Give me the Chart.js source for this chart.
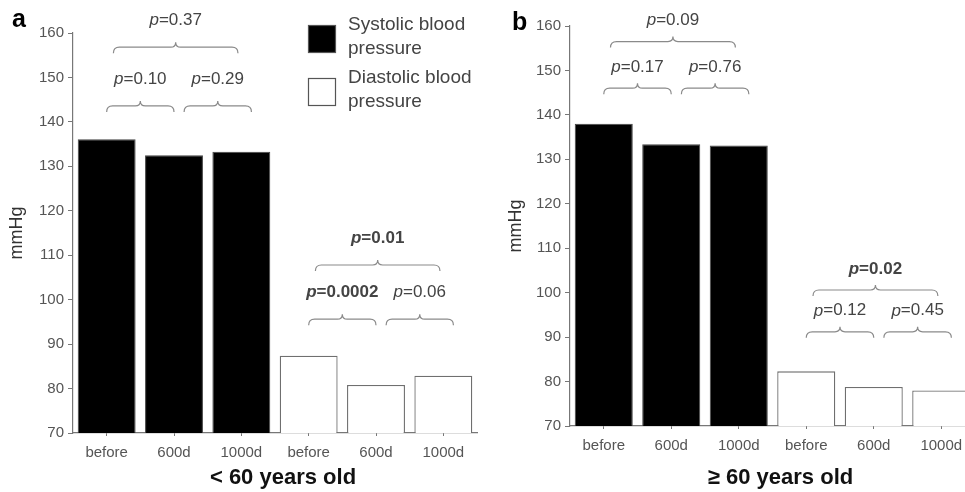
<!DOCTYPE html>
<html>
<head>
<meta charset="utf-8">
<script src="https://cdn.jsdelivr.net/npm/chart.js@4.4.0/dist/chart.umd.min.js"></script>
<style>
  html, body { margin: 0; padding: 0; background: #fff; overflow: hidden; }
  #wrap { position: relative; width: 965px; height: 492px; overflow: hidden; }
  canvas { position: absolute; top: 0; }
  #chart-a { left: 0; }
  #chart-b { left: 490px; }
</style>
</head>
<body>
<div id="wrap">
  <canvas id="chart-a" width="490" height="492"></canvas>
  <canvas id="chart-b" width="490" height="492"></canvas>
</div>
<script>
// Data
const timepoints = ["before", "600d", "1000d"];
const tickLabels = timepoints.concat(timepoints);

const systolicUnder60 = [136.1, 132.5, 133.3];
const diastolicUnder60 = [87.4, 80.8, 82.9];
const systolicOver60 = [138.0, 133.4, 133.1];
const diastolicOver60 = [82.3, 78.8, 78.0];

// which bars each p-value compares (index into tickLabels)
const comparisons = [[0, 1], [1, 2], [0, 2], [3, 4], [4, 5], [3, 5]];
const pUnder60 = ["0.10", "0.29", "0.37", "0.0002", "0.06", "0.01"];
const pOver60 = ["0.17", "0.76", "0.09", "0.12", "0.45", "0.02"];

const seriesNames = [["Systolic blood", "pressure"], ["Diastolic blood", "pressure"]];

const FONT = '"Liberation Sans", Arial, sans-serif';
const empty = [null, null, null];

// Curly brackets with p-values
const bracketPlugin = {
  id: "brackets",
  afterDatasetsDraw(chart, args, opts) {
    const ctx = chart.ctx;
    const xs = chart.scales.x;
    const ys = chart.scales.y;
    ctx.save();
    opts.pValues.forEach((p, i) => {
      const [a, b] = comparisons[i];
      let from, to;
      if (b - a === 2) { from = a + 0.1; to = a + 1.95; }
      else if (a % 3 === 0) { from = a; to = b; }
      else { from = a + 0.15; to = b + 0.15; }
      const x1 = xs.getPixelForValue(from);
      const x2 = xs.getPixelForValue(to);
      const xm = (x1 + x2) / 2;
      const level = opts.levels[a < 3 ? 0 : 1][b - a === 2 ? 1 : 0];
      const y = ys.getPixelForValue(level);

      ctx.strokeStyle = "#8a8a8a";
      ctx.lineWidth = 1.2;
      ctx.beginPath();
      ctx.moveTo(x1, y + 6);
      ctx.quadraticCurveTo(x1, y, x1 + 6, y);
      ctx.lineTo(xm - 5, y);
      ctx.quadraticCurveTo(xm, y, xm, y - 5);
      ctx.quadraticCurveTo(xm, y, xm + 5, y);
      ctx.lineTo(x2 - 6, y);
      ctx.quadraticCurveTo(x2, y, x2, y + 6);
      ctx.stroke();

      // bold when significant
      const weight = parseFloat(p) < 0.05 ? "bold" : "normal";
      const rest = "=" + p;
      ctx.font = `italic ${weight} 17px ${FONT}`;
      const wp = ctx.measureText("p").width;
      ctx.font = `${weight} 17px ${FONT}`;
      const wr = ctx.measureText(rest).width;
      const start = xm - (wp + wr) / 2;
      const ty = y - opts.labelOffset;
      ctx.fillStyle = "#444";
      ctx.textBaseline = "middle";
      ctx.textAlign = "left";
      ctx.font = `italic ${weight} 17px ${FONT}`;
      ctx.fillText("p", start, ty);
      ctx.font = `${weight} 17px ${FONT}`;
      ctx.fillText(rest, start + wp, ty);
    });
    ctx.restore();
  }
};

// Panel letter and x title
const labelsPlugin = {
  id: "panelLabels",
  afterDraw(chart, args, opts) {
    const ctx = chart.ctx;
    const area = chart.chartArea;
    ctx.save();
    ctx.fillStyle = "#000";
    ctx.textBaseline = "alphabetic";
    ctx.textAlign = "left";
    ctx.font = `bold 25px ${FONT}`;
    ctx.fillText(opts.letter, opts.letterX, opts.letterY);
    ctx.textAlign = "center";
    ctx.textBaseline = "middle";
    ctx.font = `bold 22px ${FONT}`;
    ctx.fillStyle = "#111";
    ctx.fillText(opts.title, (area.left + area.right) / 2 + 8, 478);
    ctx.restore();
  }
};

// Legend drawn next to panel a
const legendPlugin = {
  id: "boxLegend",
  afterDraw(chart, args, opts) {
    if (!opts.show) return;
    const ctx = chart.ctx;
    ctx.save();
    chart.data.datasets.forEach((ds, i) => {
      const top = 25 + i * 53;
      ctx.fillStyle = ds.backgroundColor;
      ctx.fillRect(308, top, 27, 27);
      ctx.strokeStyle = "#555";
      ctx.lineWidth = 1.2;
      ctx.strokeRect(308.5, top + 0.5, 27, 27);
      ctx.fillStyle = "#444";
      ctx.font = `19px ${FONT}`;
      ctx.textAlign = "left";
      ctx.textBaseline = "alphabetic";
      seriesNames[i].forEach((line, j) => {
        ctx.fillText(line, 348, top + 5 + j * 24);
      });
    });
    ctx.restore();
  }
};

function makeChart(canvasId, systolic, diastolic, pValues, layout) {
  return new Chart(document.getElementById(canvasId), {
    type: "bar",
    data: {
      labels: tickLabels,
      datasets: [
        {
          label: "Systolic blood pressure",
          data: systolic.concat(empty),
          backgroundColor: "#000",
          borderColor: "#444",
          borderWidth: 1
        },
        {
          label: "Diastolic blood pressure",
          data: empty.concat(diastolic),
          backgroundColor: "#fff",
          borderColor: "#6f6f6f",
          borderWidth: 1.3
        }
      ]
    },
    options: {
      responsive: false,
      animation: false,
      categoryPercentage: 1,
      barPercentage: 0.86,
      layout: { padding: { top: layout.top, right: layout.right, left: 0, bottom: 0 } },
      scales: {
        x: {
          stacked: true,
          grid: { display: true, drawOnChartArea: false, offset: false, tickLength: 3, color: "#777" },
          border: { color: "#777", width: 1.2 },
          ticks: { color: "#555", font: { family: FONT, size: 15 }, padding: 8 },
          afterFit(scale) { scale.height = layout.xHeight; }
        },
        y: {
          min: 70,
          max: 160,
          ticks: { stepSize: 10, color: "#555", font: { family: FONT, size: 15 }, padding: 4 },
          grid: { drawOnChartArea: false, tickLength: 5, color: "#777" },
          border: { color: "#777", width: 1.2 },
          title: {
            display: true,
            text: "mmHg",
            color: "#333",
            font: { family: FONT, size: 18 },
            padding: { top: layout.titlePad, bottom: 0 }
          },
          afterFit(scale) { scale.width = layout.yWidth; }
        }
      },
      plugins: {
        legend: { display: false },
        tooltip: { enabled: false },
        brackets: { pValues: pValues, levels: layout.levels, labelOffset: layout.labelOffset },
        panelLabels: { letter: layout.letter, letterX: layout.letterX, letterY: layout.letterY, title: layout.title },
        boxLegend: { show: layout.legend }
      }
    },
    plugins: [bracketPlugin, labelsPlugin, legendPlugin]
  });
}

makeChart("chart-a", systolicUnder60, diastolicUnder60, pUnder60, {
  top: 33, right: 13, xHeight: 59, yWidth: 73, titlePad: 6,
  levels: [[143.6, 156.8], [95.6, 107.8]], labelOffset: 27,
  letter: "a", letterX: 12, letterY: 27, title: "< 60 years old", legend: true
});

makeChart("chart-b", systolicOver60, diastolicOver60, pOver60, {
  top: 26, right: 5, xHeight: 66, yWidth: 80, titlePad: 15,
  levels: [[146.0, 156.5], [91.2, 100.6]], labelOffset: 21,
  letter: "b", letterX: 22, letterY: 30, title: "\u2265 60 years old", legend: false
});
</script>
</body>
</html>
